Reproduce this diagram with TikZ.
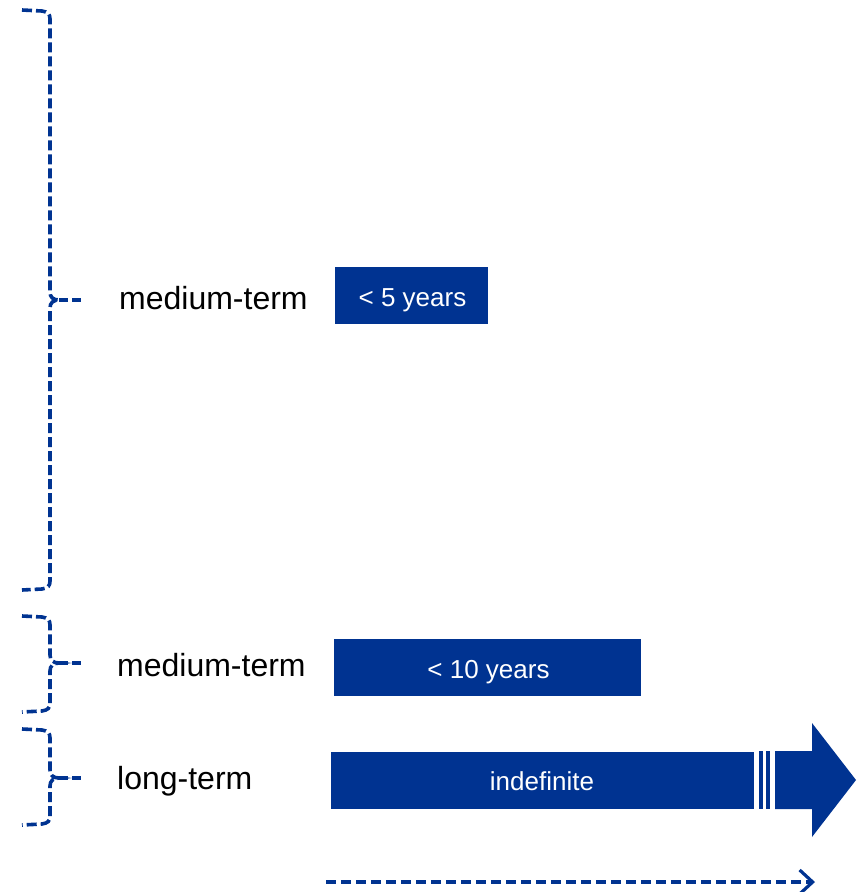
\documentclass[tikz,border=0pt]{standalone}
\usepackage{fontspec}
\setmainfont{Liberation Sans}
\usetikzlibrary{arrows.meta}
\definecolor{navy}{RGB}{0,51,145}
\newcommand\mybrace[3]{%
  \draw[bracestyle] (22,#1) -- (42,{#1+1}) .. controls (48,{#1+2}) and (50,{#1+4}) .. (50,{#1+9})
    -- (50,{#2-8}) .. controls (50,{#2-3}) and (53,#2) .. (59,#2)
    .. controls (53,#2) and (50,{#2+3}) .. (50,{#2+8})
    -- (50,{#3-9}) .. controls (50,{#3-4}) and (48,{#3-2}) .. (42,{#3-1}) -- (22,#3);
}
\begin{document}
\begin{tikzpicture}[x=1pt,y=-1pt,
  bracestyle/.style={draw=navy,line width=3.6pt,dash pattern=on 10pt off 4pt},
  tipline/.style={draw=navy,line width=3.6pt,dash pattern=on 9pt off 4pt},
  lbl/.style={anchor=base west,inner sep=0pt,font=\fontsize{32}{36}\selectfont},
  bar/.style={fill=navy,text=white,inner sep=0pt,minimum height=57pt,font=\fontsize{26}{30}\selectfont},
  stripe/.style={fill=navy,draw=none}]
\useasboundingbox (0,0) rectangle (859,892);
% braces
\mybrace{10}{300}{590}
\mybrace{616}{663}{712}
\mybrace{729}{778}{825}
\coordinate (t1a) at (59,300); \coordinate (t1b) at (81,300);
\coordinate (t2a) at (59,663); \coordinate (t2b) at (81,663);
\coordinate (t3a) at (59,778); \coordinate (t3b) at (81,778);
\draw[tipline] (t1a) -- (t1b);
\draw[tipline] (t2a) -- (t2b);
\draw[tipline] (t3a) -- (t3b);
% labels
\node[lbl] (l1) at (119,309) {medium-term};
\node[lbl] (l2) at (117,676) {medium-term};
\node[lbl] (l3) at (117,789) {long-term};
% bars
\node[bar,minimum width=153pt] (b1) at (411.5,295.5) {};
\node[bar,minimum width=307pt] (b2) at (487.5,667.5) {};
\node[bar,minimum width=423pt] (b3) at (542.5,780) {};
\node[text=white,font=\fontsize{26}{30}\selectfont,anchor=base] (b1t) at (412.5,306) {< 5 years};
\node[text=white,font=\fontsize{26}{30}\selectfont,anchor=base] (b2t) at (488.5,678) {< 10 years};
\node[text=white,font=\fontsize{26}{30}\selectfont,anchor=base] (b3t) at (542,790) {indefinite};
\fill[stripe] (759,751) rectangle (763,809);
\fill[stripe] (766,751) rectangle (770,809);
\fill[stripe] (775,751) -- (812,751) -- (812,723) -- (856,780) -- (812,837) -- (812,809) -- (775,809) -- cycle;
% time axis
\coordinate (ax1) at (326,882);
\coordinate (ax2) at (815,882);
\draw[navy,line width=3.2pt,dash pattern=on 10pt off 5pt,-{Straight Barb[length=13pt,width=24pt,line width=3.2pt]}] (ax1) -- (ax2);
\end{tikzpicture}
\end{document}
